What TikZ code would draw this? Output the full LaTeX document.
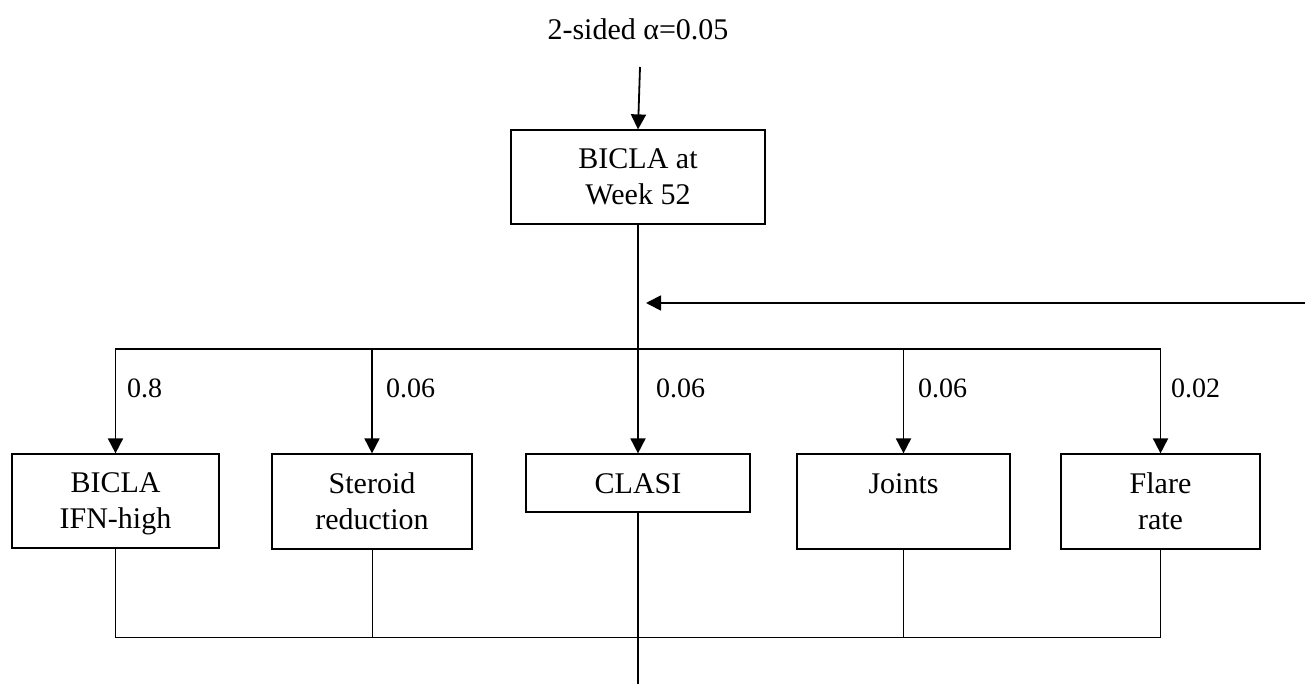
\documentclass[tikz,border=0pt]{standalone}
\usepackage{fontspec}
\setmainfont{Liberation Serif}
\usetikzlibrary{arrows.meta}
\newcommand\mystr{\rule[-6pt]{0pt}{32pt}}
\begin{document}
\begin{tikzpicture}[x=1pt,y=-1pt,
  box/.style={draw, line width=1.2pt, inner sep=0pt, align=center,
    font=\fontsize{30}{36}\selectfont},
  arr/.style={line width=1.8pt, -{Triangle[length=15pt,width=15pt]}},
  lbl/.style={anchor=west, inner sep=0pt, font=\fontsize{28}{32}\selectfont},
  thinl/.style={line width=1pt},
  main/.style={line width=1.8pt}]
\useasboundingbox (0,0) rectangle (1305,684);
\node[inner sep=0pt, font=\fontsize{30}{36}\selectfont] (t) at (638,29) {2-sided α=0.05};
\coordinate (a0) at (640,67);
\node[box, minimum width=254pt, minimum height=94pt] (b0) at (638,177) {\mystr BICLA at\\\mystr Week 52};
\node[box, minimum width=207pt, minimum height=94pt] (b1) at (115.5,501) {\mystr BICLA\\\mystr IFN-high};
\node[box, minimum width=200pt, minimum height=95pt] (b2) at (372,501.5) {\mystr Steroid\\\mystr reduction};
\node[box, minimum width=224pt, minimum height=58pt] (b3) at (638,483) {\mystr CLASI};
\node[box, minimum width=213pt, minimum height=95pt] (b4) at (903.5,501.5) {\mystr Joints\\\mystr};
\node[box, minimum width=199pt, minimum height=95pt] (b5) at (1160.5,501.5) {\mystr Flare\\\mystr rate};
\coordinate (j) at (638,349);
\coordinate (rs) at (1305,303);
\coordinate (rt) at (646,303);
\coordinate (bot) at (638,637);
\coordinate (endc) at (638,684);
% top arrow
\draw[arr] (a0) -- (b0.north);
% main stem
\draw[main] (b0.south) -- (j);
\draw[arr] (rs) -- (rt);
% branches
\draw[arr] (j) -| (b1.north);
\draw[arr] (j) -| (b2.north);
\draw[arr] (j) -- (b3.north);
\draw[arr] (j) -| (b4.north);
\draw[arr] (j) -| (b5.north);
% labels
\node[lbl] (l1) at (127,388) {0.8};
\node[lbl] (l2) at (386,388) {0.06};
\node[lbl] (l3) at (656,388) {0.06};
\node[lbl] (l4) at (918,388) {0.06};
\node[lbl] (l5) at (1171,388) {0.02};
% bottom
\draw[thinl] (b1.south) |- (bot);
\draw[thinl] (b2.south) |- (bot);
\draw[thinl] (b4.south) |- (bot);
\draw[thinl] (b5.south) |- (bot);
\draw[main] (b3.south) -- (endc);
\end{tikzpicture}
\end{document}
